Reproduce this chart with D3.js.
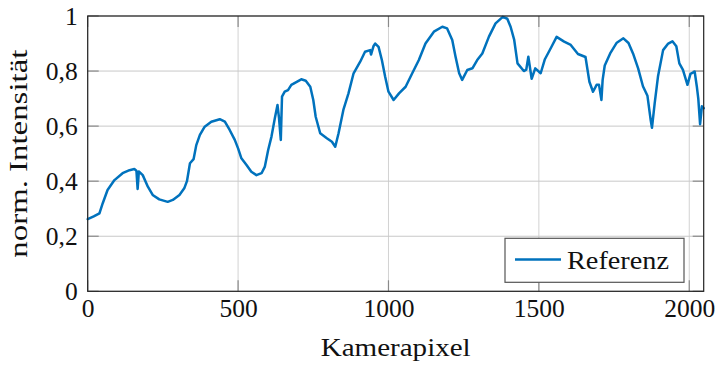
<!DOCTYPE html>
<html>
<head>
<meta charset="utf-8">
<script src="https://cdn.jsdelivr.net/npm/d3@7"></script>
<style>
  html, body { margin: 0; padding: 0; background: #fff; }
  svg text { font-family: "Liberation Serif", "Times New Roman", serif; fill: #111; }
</style>
</head>
<body>
<svg id="chart" width="717" height="366"></svg>
<script>
// ---- data ----
const pixels = [0,20,39,50,66,89,116,139,155,162,166,170,183,200,216,238,266,283,305,321,330,340,352,361,373,389,411,439,456,472,489,500,511,528,544,561,578,589,600,611,622,631,636,642,646,655,666,677,695,710,725,740,750,758,773,795,812,823,834,850,867,884,906,922,939,942,950,956,967,978,989,1000,1017,1035,1057,1079,1101,1123,1151,1179,1195,1212,1223,1235,1245,1262,1279,1295,1312,1334,1356,1380,1395,1406,1418,1429,1450,1458,1465,1476,1488,1506,1520,1539,1559,1584,1606,1630,1655,1668,1680,1692,1700,1708,1712,1719,1737,1759,1781,1798,1813,1830,1846,1861,1872,1876,1885,1896,1913,1930,1944,1957,1967,1979,1994,2004,2018,2025,2030,2036,2042,2048];
const intensity = [0.262,0.272,0.283,0.32,0.368,0.404,0.429,0.44,0.444,0.438,0.372,0.435,0.422,0.38,0.35,0.334,0.325,0.332,0.35,0.374,0.40,0.465,0.48,0.531,0.568,0.598,0.616,0.625,0.616,0.586,0.55,0.519,0.483,0.459,0.434,0.422,0.429,0.453,0.513,0.562,0.628,0.677,0.63,0.55,0.707,0.725,0.731,0.75,0.761,0.77,0.765,0.743,0.695,0.634,0.574,0.556,0.543,0.525,0.574,0.659,0.719,0.792,0.834,0.87,0.876,0.86,0.89,0.9,0.888,0.84,0.779,0.725,0.695,0.719,0.743,0.792,0.84,0.9,0.943,0.961,0.955,0.913,0.852,0.792,0.768,0.804,0.81,0.84,0.864,0.925,0.973,0.997,0.99,0.961,0.913,0.828,0.8,0.805,0.852,0.772,0.81,0.792,0.843,0.882,0.924,0.907,0.895,0.862,0.851,0.761,0.725,0.75,0.75,0.695,0.768,0.82,0.864,0.903,0.919,0.902,0.864,0.81,0.745,0.71,0.62,0.594,0.683,0.78,0.876,0.9,0.908,0.89,0.828,0.804,0.75,0.79,0.798,0.745,0.7,0.607,0.672,0.665];
const xTicks = [0, 500, 1000, 1500, 2000];
const yTicks = [0, 0.2, 0.4, 0.6, 0.8, 1];
const xLabel = "Kamerapixel";
const yLabel = "norm. Intensität";
const seriesName = "Referenz";

// ---- layout ----
const svg = d3.select("#chart");
const L = 87.7, R = 703.7, T = 16, B = 291.3;
const x = d3.scaleLinear().domain([0, 2048]).range([L, R]);
const y = d3.scaleLinear().domain([0, 1]).range([B, T]);
const fmtY = d => (d === 0 || d === 1) ? String(d) : d3.format(".1f")(d).replace(".", ",");
const fs = 25.5;

// grid
const grid = svg.append("g");
grid.selectAll("line.gx").data(xTicks).join("line")
  .attr("x1", d => x(d)).attr("x2", d => x(d)).attr("y1", T).attr("y2", B)
  .attr("stroke", "#d2d2d2").attr("stroke-width", 1);
grid.selectAll("line.gy").data(yTicks).join("line")
  .attr("y1", d => y(d)).attr("y2", d => y(d)).attr("x1", L).attr("x2", R)
  .attr("stroke", "#c8c8c8").attr("stroke-width", 1);

// inner ticks on all four sides
const tl = 11;
const ticks = svg.append("g").attr("stroke", "#8a8a8a").attr("stroke-width", 1.2);
xTicks.forEach(d => {
  ticks.append("line").attr("x1", x(d)).attr("x2", x(d)).attr("y1", B).attr("y2", B - tl);
  ticks.append("line").attr("x1", x(d)).attr("x2", x(d)).attr("y1", T).attr("y2", T + tl);
});
yTicks.forEach(d => {
  ticks.append("line").attr("y1", y(d)).attr("y2", y(d)).attr("x1", L).attr("x2", L + tl);
  ticks.append("line").attr("y1", y(d)).attr("y2", y(d)).attr("x1", R).attr("x2", R - tl);
});

// axes (labels through d3 axes, lines hidden)
const xAxis = svg.append("g").attr("transform", `translate(0,${B})`)
  .call(d3.axisBottom(x).tickValues(xTicks).tickSize(0).tickPadding(26).tickFormat(d3.format("d")));
xAxis.select(".domain").remove();
xAxis.selectAll("text").attr("font-size", fs).attr("font-family", "Liberation Serif").attr("fill", "#111").attr("dy", 0);

const yAxis = svg.append("g").attr("transform", `translate(${L},0)`)
  .call(d3.axisLeft(y).tickValues(yTicks).tickSize(0).tickPadding(10).tickFormat(fmtY));
yAxis.select(".domain").remove();
yAxis.selectAll("text").attr("font-size", fs).attr("font-family", "Liberation Serif").attr("fill", "#111").attr("dy", "0.34em");

// data line
const data = pixels.map((p, i) => [p, intensity[i]]);
svg.append("path").datum(data)
  .attr("fill", "none").attr("stroke", "#0072bd").attr("stroke-width", 2.5)
  .attr("stroke-linejoin", "round").attr("stroke-linecap", "round")
  .attr("d", d3.line().x(d => x(d[0])).y(d => y(d[1])));

// frame
svg.append("rect").attr("x", L).attr("y", T).attr("width", R - L).attr("height", B - T)
  .attr("fill", "none").attr("stroke", "#222").attr("stroke-width", 1.2);

// axis titles
svg.append("text").attr("x", (L + R) / 2).attr("y", 356).attr("text-anchor", "middle")
  .attr("font-size", fs).attr("textLength", 150).attr("lengthAdjust", "spacingAndGlyphs").text(xLabel);
svg.append("text").attr("transform", `translate(27,${(T + B) / 2}) rotate(-90)`).attr("text-anchor", "middle")
  .attr("font-size", fs).attr("textLength", 208).attr("lengthAdjust", "spacingAndGlyphs").text(yLabel);

// legend
const lg = svg.append("g");
lg.append("rect").attr("x", 505).attr("y", 238.3).attr("width", 179).attr("height", 44)
  .attr("fill", "#fff").attr("stroke", "#555").attr("stroke-width", 1.2);
lg.append("line").attr("x1", 515).attr("x2", 561).attr("y1", 259.5).attr("y2", 259.5)
  .attr("stroke", "#0072bd").attr("stroke-width", 2.5);
lg.append("text").attr("x", 567).attr("y", 268.5).attr("font-size", fs)
  .attr("textLength", 102).attr("lengthAdjust", "spacingAndGlyphs").text(seriesName);
</script>
</body>
</html>
